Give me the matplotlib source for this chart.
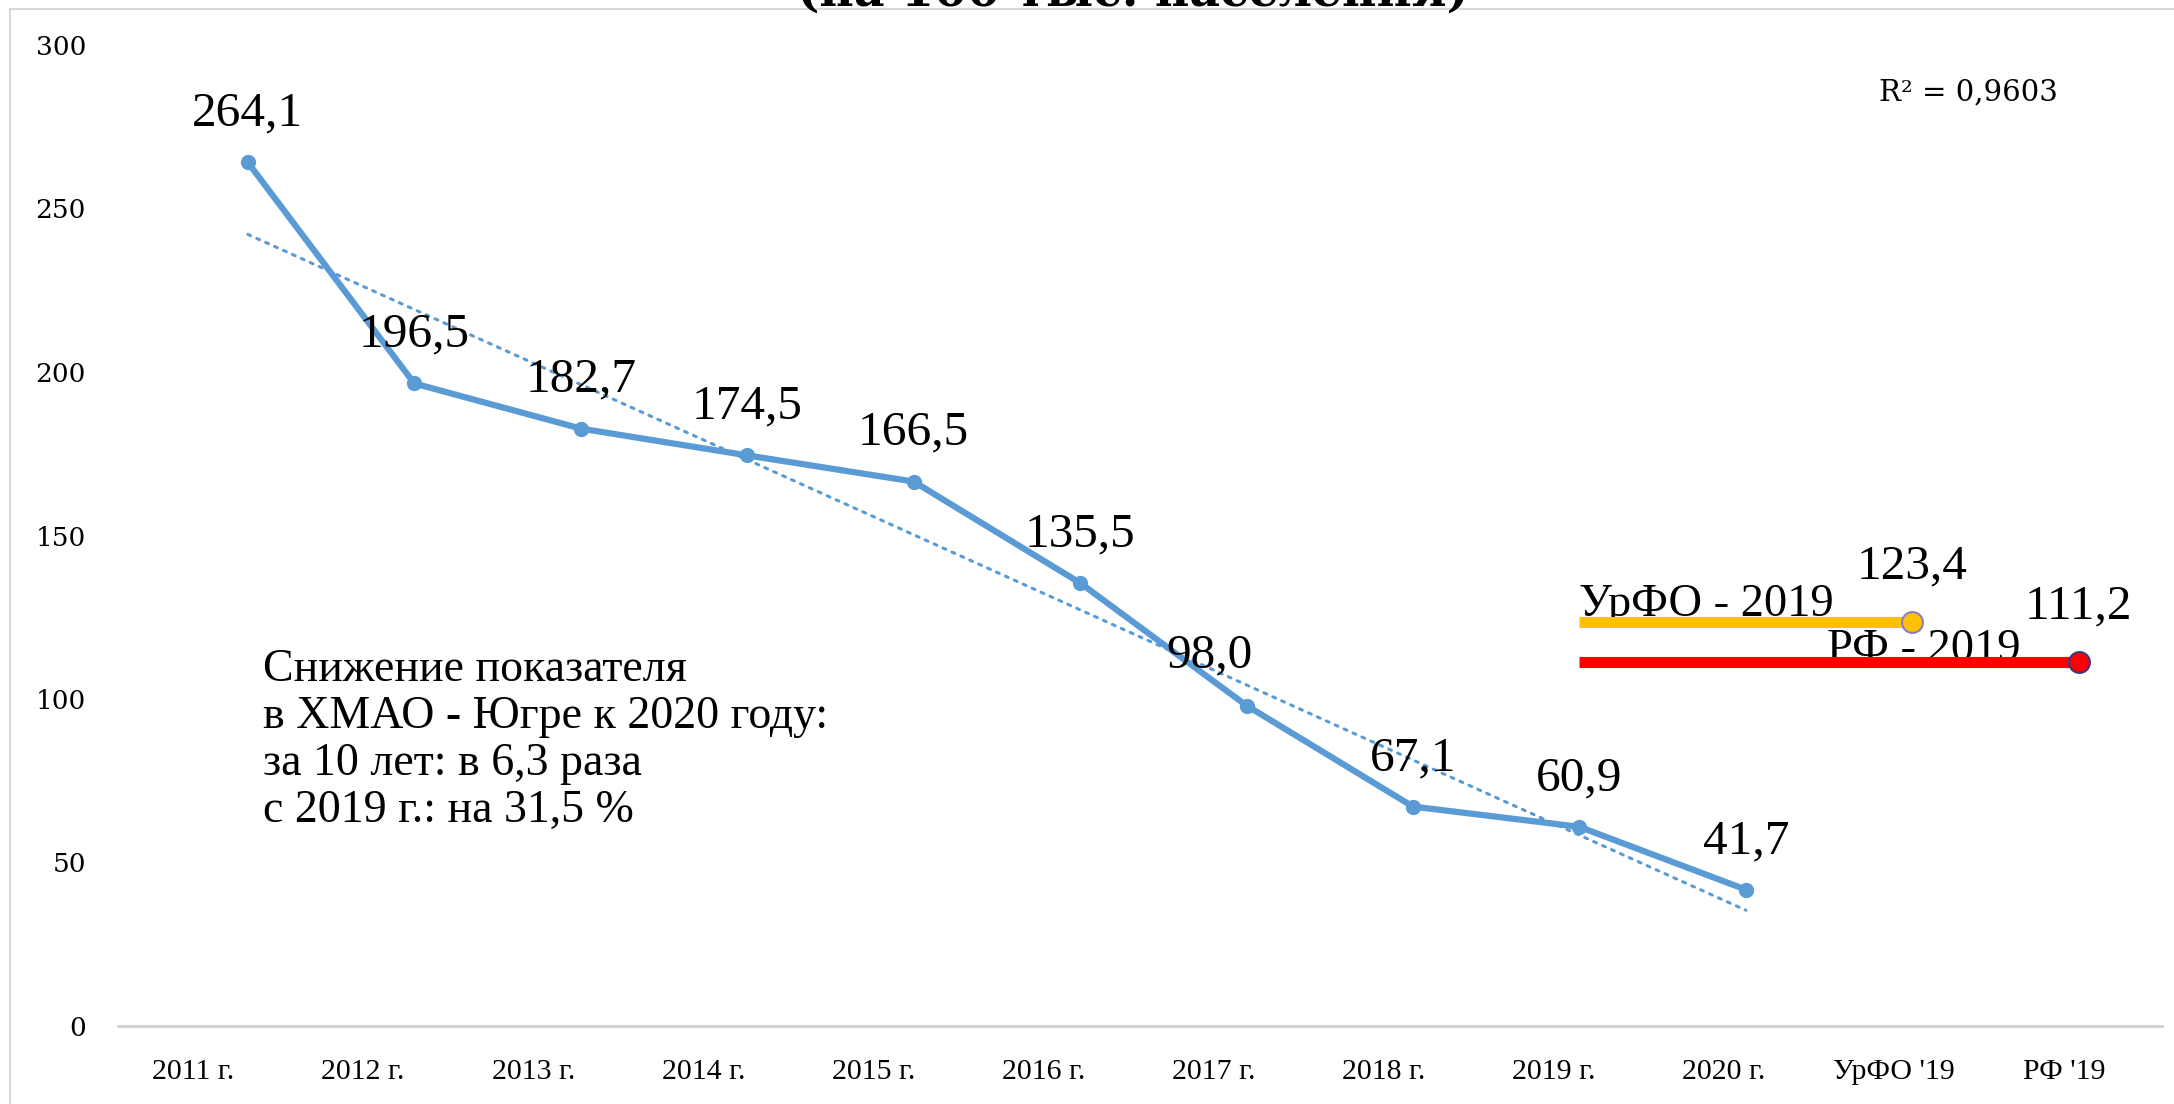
import matplotlib
matplotlib.use("Agg")
import matplotlib.pyplot as plt
import numpy as np
from matplotlib.patches import Rectangle

W, H = 2174, 1104

# --- data ---
categories = ["2011 г.", "2012 г.", "2013 г.", "2014 г.", "2015 г.", "2016 г.",
              "2017 г.", "2018 г.", "2019 г.", "2020 г.", "УрФО '19", "РФ '19"]
khmao = [264.1, 196.5, 182.7, 174.5, 166.5, 135.5, 98.0, 67.1, 60.9, 41.7]
urfo_2019 = 123.4
rf_2019 = 111.2
r2_text = "R² = 0,9603"
note_lines = ["Снижение показателя",
              "в ХМАО - Югре к 2020 году:",
              "за 10 лет: в 6,3 раза",
              "с 2019 г.: на 31,5 %"]
title = "(на 100 тыс. населения)"

BLUE = "#5B9BD5"
ORANGE = "#FFC000"
RED = "#FF0000"
LABEL_FONT = ["Liberation Serif", "DejaVu Serif"]
TICK_FONT = ["DejaVu Serif"]

fig = plt.figure(figsize=(W / 100, H / 100), dpi=100)
ax = fig.add_axes([118 / W, 1 - 1026 / H, (2162 - 118) / W, (1026 - 45) / H])

x = np.arange(len(khmao))
ax.plot(x, khmao, color=BLUE, lw=4.5, marker="o", ms=10, zorder=4,
        solid_capstyle="round")

# linear trend line
k, b = np.polyfit(x, khmao, 1)
ax.plot(x, k * x + b, color=BLUE, lw=2.2, dashes=(1, 2.2), dash_capstyle="round", zorder=3)

# regional reference lines (from 2019 to own category)
i_urfo = categories.index("УрФО '19")
i_rf = categories.index("РФ '19")
ax.plot([8, i_urfo], [urfo_2019, urfo_2019], color=ORANGE, lw=8, zorder=3,
        solid_capstyle="butt")
ax.plot([i_urfo], [urfo_2019], "o", ms=15, mfc=ORANGE, mec="#8E7CC3", mew=1.5, zorder=5)
ax.plot([8, i_rf], [rf_2019, rf_2019], color=RED, lw=8, zorder=3,
        solid_capstyle="butt")
ax.plot([i_rf], [rf_2019], "o", ms=15, mfc=RED, mec="#3A3A80", mew=1.5, zorder=5)

# data labels
nudge = {6: (-27, 36)}
for i, v in enumerate(khmao):
    dx, dy = nudge.get(i, (0, 35))
    ax.annotate(f"{v:.1f}".replace(".", ","), (i, v), xytext=(dx, dy),
                textcoords="offset points", ha="center", va="center",
                fontsize=35.5, family=LABEL_FONT, color="black", zorder=6)
ax.annotate(f"{urfo_2019:.1f}".replace(".", ","), (i_urfo, urfo_2019), xytext=(0, 40),
            textcoords="offset points", ha="center", va="center",
            fontsize=35.5, family=LABEL_FONT, zorder=6)
ax.annotate(f"{rf_2019:.1f}".replace(".", ","), (i_rf, rf_2019), xytext=(0, 40),
            textcoords="offset points", ha="center", va="center",
            fontsize=35.5, family=LABEL_FONT, zorder=6)

ax.text(8.0, 125.5, "УрФО - 2019", ha="left", va="baseline", fontsize=33.5,
        family=LABEL_FONT, zorder=2)
ax.text(9.49, 111.5, "РФ - 2019", ha="left", va="baseline", fontsize=33.5,
        family=LABEL_FONT, zorder=2)

ax.text(0.09, 87.4, "\n".join(note_lines), ha="left", va="center", fontsize=33,
        family=LABEL_FONT, linespacing=1.13)

ax.text(10.34, 285.5, r2_text, ha="center", va="center", fontsize=21, family=TICK_FONT)

# axes styling
ax.set_xlim(-0.78, 11.5)
ax.set_ylim(0, 300)
ax.set_yticks(range(0, 301, 50))
ax.tick_params(axis="y", length=0, pad=23, labelsize=19)
for lab in ax.get_yticklabels():
    lab.set_family(TICK_FONT)
ax.set_xticks([])
for s in ["top", "right", "left"]:
    ax.spines[s].set_visible(False)
ax.spines["bottom"].set_color("#D0D0D0")
ax.spines["bottom"].set_linewidth(2)

# category labels on their own evenly spaced scale
ax_lab = ax.twiny()
ax_lab.set_xlim((118 - 193) / 170.1, (2162 - 193) / 170.1)
ax_lab.xaxis.set_ticks_position("bottom")
ax_lab.xaxis.set_label_position("bottom")
ax_lab.set_xticks(range(len(categories)))
ax_lab.set_xticklabels(categories, family=LABEL_FONT, fontsize=21.5)
ax_lab.tick_params(axis="x", length=0, pad=24)
for s in ax_lab.spines.values():
    s.set_visible(False)

# outer frame and clipped title
fig.patches.append(Rectangle((10 / W, -0.1), 1.2, 1 - 9 / H + 0.1, fill=False,
                             edgecolor="#D9D9D9", lw=1.5, transform=fig.transFigure))
fig.text(1133 / W, 1 - 6 / H, title, ha="center", va="baseline", fontsize=34,
         fontweight="bold", family=TICK_FONT)

fig.savefig("out.png", dpi=100, facecolor="white")
